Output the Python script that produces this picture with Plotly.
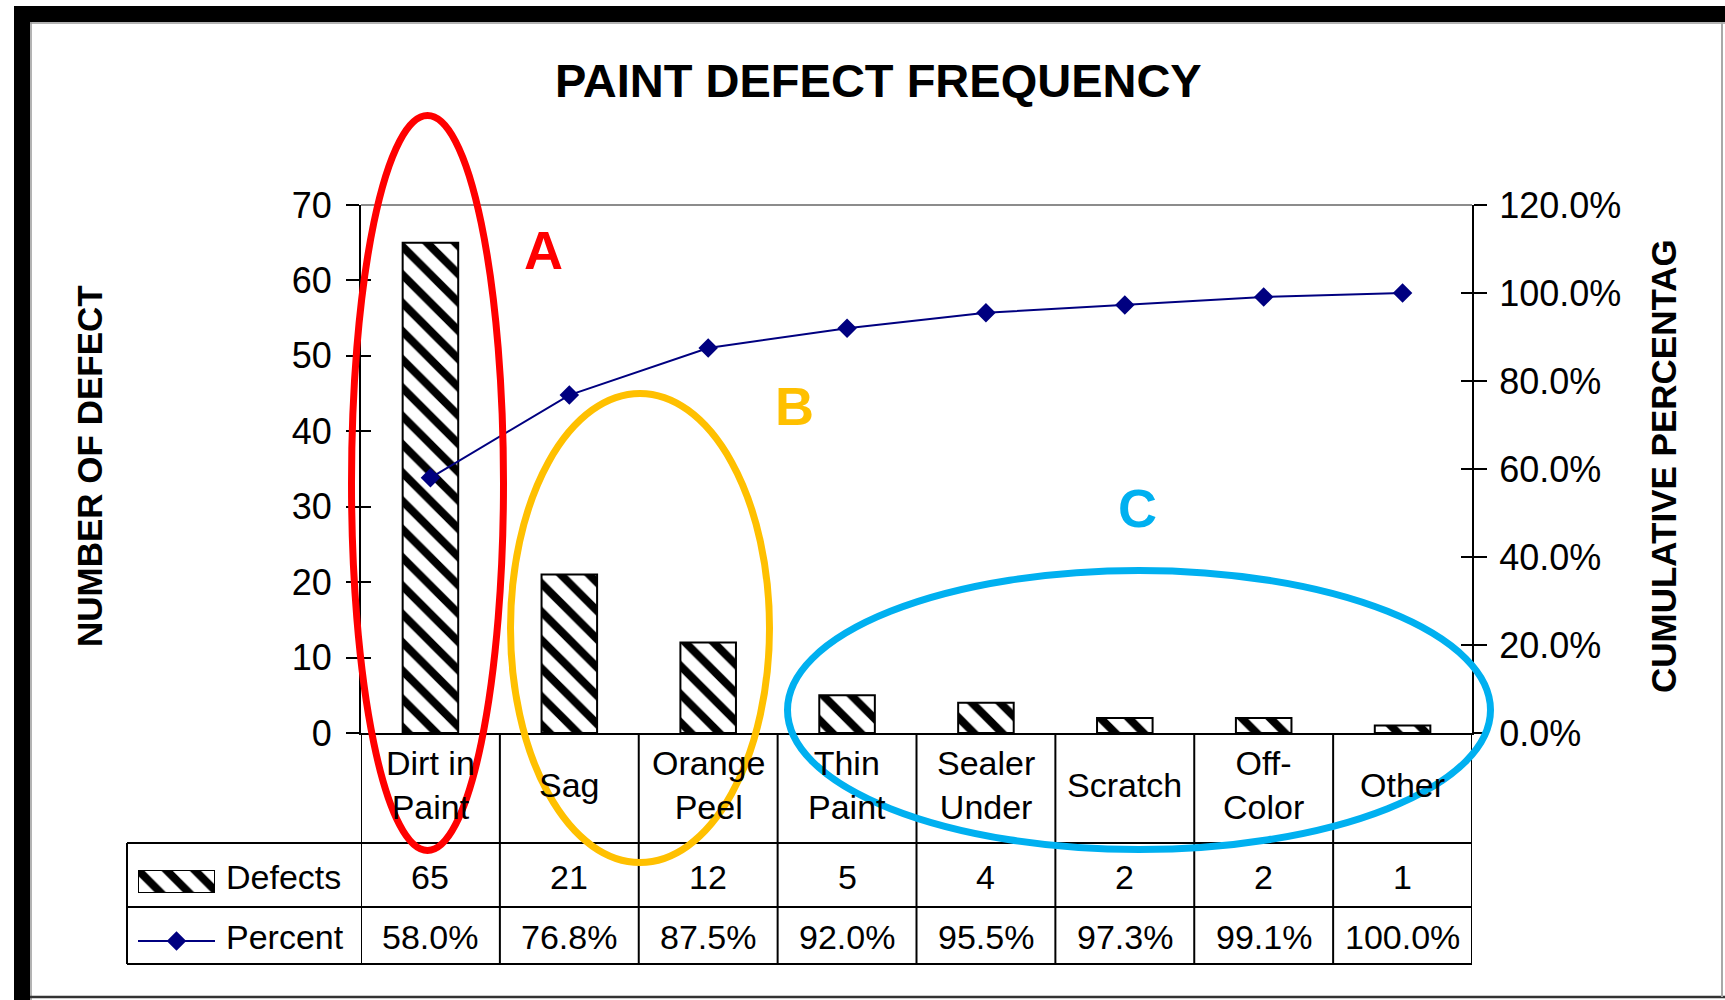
import plotly.graph_objects as go

# ---- data -------------------------------------------------------------
categories = ["Dirt in Paint", "Sag", "Orange Peel", "Thin Paint",
              "Sealer Under", "Scratch", "Off-Color", "Other"]
header_labels = ["Dirt in<br>Paint", "Sag", "Orange<br>Peel", "Thin<br>Paint",
                 "Sealer<br>Under", "Scratch", "Off-<br>Color", "Other"]
defects = [65, 21, 12, 5, 4, 2, 2, 1]
cum_percent = [58.0, 76.8, 87.5, 92.0, 95.5, 97.3, 99.1, 100.0]
count_ticks = [0, 10, 20, 30, 40, 50, 60, 70]
percent_ticks = [0, 20, 40, 60, 80, 100, 120]

# ---- page geometry helpers (pixels -> paper fractions) ----------------
W, H = 1725, 1000


def px(x):
    return x / W


def py(y):
    return 1 - y / H


FONT = "Arial, Liberation Sans, sans-serif"
NAVY = "#000080"
PLOT_L, PLOT_R, PLOT_T, PLOT_B = 361, 1472, 205, 733
HATCH = dict(shape="\\", size=20, solidity=0.4, fgcolor="black",
             bgcolor="white", fillmode="replace")

fig = go.Figure()

# Pareto bars
fig.add_trace(go.Bar(
    x=categories, y=defects, width=0.4,
    marker=dict(color="white", line=dict(color="black", width=2), pattern=HATCH),
    xaxis="x", yaxis="y", hoverinfo="skip",
))

# cumulative percentage line
fig.add_trace(go.Scatter(
    x=categories, y=[v / 100 for v in cum_percent],
    mode="lines+markers", xaxis="x", yaxis="y2",
    line=dict(color=NAVY, width=2),
    marker=dict(symbol="diamond", size=15, color=NAVY),
    hoverinfo="skip",
))

# legend swatches inside the data table
fig.add_trace(go.Bar(
    x=[0], y=[1], width=1, xaxis="x2", yaxis="y5",
    marker=dict(color="white", line=dict(color="black", width=2), pattern=HATCH),
    hoverinfo="skip",
))
fig.add_trace(go.Scatter(
    x=[0, 1], y=[0, 0], mode="lines", xaxis="x3", yaxis="y6",
    line=dict(color=NAVY, width=2), hoverinfo="skip",
))
fig.add_trace(go.Scatter(
    x=[0.5], y=[0], mode="markers", xaxis="x3", yaxis="y6",
    marker=dict(symbol="diamond", size=15, color=NAVY), hoverinfo="skip",
))

# invisible traces so the tick-crossing overlay axes render
fig.add_trace(go.Scatter(x=[categories[0]], y=[None], xaxis="x", yaxis="y3",
                         mode="markers", showlegend=False))
fig.add_trace(go.Scatter(x=[categories[0]], y=[None], xaxis="x", yaxis="y4",
                         mode="markers", showlegend=False))

tick_font = dict(family=FONT, size=36, color="black")
x_dom = [px(PLOT_L), px(PLOT_R)]
y_dom = [py(PLOT_B), py(PLOT_T)]

fig.update_layout(
    width=W, height=H, autosize=False,
    margin=dict(l=0, r=0, t=0, b=0, pad=0, autoexpand=False),
    paper_bgcolor="white", plot_bgcolor="white",
    showlegend=False, bargap=0.6,
    xaxis=dict(domain=x_dom, type="category", range=[-0.5, 7.5],
               showticklabels=False, ticks="", showgrid=False, zeroline=False,
               showline=True, linecolor="black", linewidth=2, anchor="y",
               automargin=False, fixedrange=True),
    yaxis=dict(domain=y_dom, range=[0, 70], tickvals=count_ticks,
               ticks="outside", ticklen=13, tickwidth=2, tickcolor="black",
               showline=True, linecolor="black", linewidth=2,
               showgrid=False, zeroline=False, tickfont=tick_font,
               ticklabelstandoff=7, anchor="x", automargin=False,
               fixedrange=True),
    yaxis2=dict(range=[0, 1.2], tickvals=[t / 100 for t in percent_ticks],
                tickformat=".1%", side="right", overlaying="y", anchor="x",
                ticks="outside", ticklen=13, tickwidth=2, tickcolor="black",
                showline=True, linecolor="black", linewidth=2,
                showgrid=False, zeroline=False, tickfont=tick_font,
                ticklabelstandoff=5, automargin=False, fixedrange=True),
    yaxis3=dict(range=[0, 70], tickvals=count_ticks, overlaying="y",
                side="left", anchor="x", ticks="inside", ticklen=10,
                tickwidth=2, tickcolor="black", showticklabels=False,
                showline=False, showgrid=False, zeroline=False,
                automargin=False),
    yaxis4=dict(range=[0, 1.2], tickvals=[t / 100 for t in percent_ticks],
                overlaying="y", side="right", anchor="x", ticks="inside",
                ticklen=11, tickwidth=2, tickcolor="black",
                showticklabels=False, showline=False, showgrid=False,
                zeroline=False, automargin=False),
    xaxis2=dict(domain=[px(138), px(215)], range=[-0.5, 0.5], visible=False,
                anchor="y5", automargin=False, fixedrange=True),
    yaxis5=dict(domain=[py(893), py(870)], range=[0, 1], visible=False,
                anchor="x2", automargin=False, fixedrange=True),
    xaxis3=dict(domain=[px(138), px(215)], range=[0, 1], visible=False,
                anchor="y6", automargin=False, fixedrange=True),
    yaxis6=dict(domain=[py(951), py(931)], range=[-1, 1], visible=False,
                anchor="x3", automargin=False, fixedrange=True),
)

shapes = []

# outer frame
shapes.append(dict(type="rect", xref="paper", yref="paper", x0=px(14), x1=1,
                   y0=py(22), y1=py(6), fillcolor="black", line=dict(width=0)))
shapes.append(dict(type="rect", xref="paper", yref="paper", x0=px(14), x1=px(30),
                   y0=0, y1=py(6), fillcolor="black", line=dict(width=0)))
shapes.append(dict(type="line", xref="paper", yref="paper", x0=px(30), x1=1,
                   y0=py(23), y1=py(23), line=dict(color="#9a9a9a", width=1.5)))
shapes.append(dict(type="line", xref="paper", yref="paper", x0=px(31), x1=px(31),
                   y0=0, y1=py(22), line=dict(color="#9a9a9a", width=1.5)))
shapes.append(dict(type="line", xref="paper", yref="paper", x0=px(30), x1=1,
                   y0=py(997), y1=py(997), line=dict(color="#333333", width=2.5)))
shapes.append(dict(type="line", xref="paper", yref="paper", x0=px(1722), x1=px(1722),
                   y0=py(997), y1=py(22), line=dict(color="#a8a8a8", width=2)))

# top border of the plot area
shapes.append(dict(type="line", xref="paper", yref="paper", x0=px(PLOT_L),
                   x1=px(PLOT_R), y0=py(PLOT_T), y1=py(PLOT_T),
                   line=dict(color="#8c8c8c", width=2)))

# data table grid
TABLE_L = 127
ROW_HEAD, ROW_MID, ROW_BOT = 843, 907, 964
for yy in (ROW_HEAD, ROW_MID, ROW_BOT):
    shapes.append(dict(type="line", xref="paper", yref="paper", x0=px(TABLE_L),
                       x1=px(PLOT_R), y0=py(yy), y1=py(yy),
                       line=dict(color="black", width=2)))
shapes.append(dict(type="line", xref="paper", yref="paper", x0=px(TABLE_L),
                   x1=px(TABLE_L), y0=py(ROW_BOT), y1=py(ROW_HEAD),
                   line=dict(color="black", width=2)))
for k in range(len(categories) + 1):
    shapes.append(dict(type="line", xref="x", yref="paper", x0=k - 0.5, x1=k - 0.5,
                       y0=py(ROW_BOT), y1=py(PLOT_B),
                       line=dict(color="black", width=2)))

# highlight ellipses
shapes.append(dict(type="circle", xref="paper", yref="paper", x0=px(351.5),
                   x1=px(503.5), y0=py(850.5), y1=py(115.5),
                   line=dict(color="#FF0000", width=7)))
shapes.append(dict(type="circle", xref="paper", yref="paper", x0=px(510.5),
                   x1=px(769.5), y0=py(862.5), y1=py(393.5),
                   line=dict(color="#FFC000", width=7)))
shapes.append(dict(type="circle", xref="paper", yref="paper", x0=px(787.5),
                   x1=px(1490.5), y0=py(849.5), y1=py(570.5),
                   line=dict(color="#00B0F0", width=7)))

fig.update_layout(shapes=shapes)

ann = []


def text(x, y, s, size, xref="paper", color="black", xanchor="center",
         angle=0, bold=False):
    ann.append(dict(x=x, y=y, xref=xref, yref="paper", text=f"<b>{s}</b>" if bold else s,
                    showarrow=False, xanchor=xanchor, yanchor="middle",
                    textangle=angle, font=dict(family=FONT, size=size, color=color)))


# title and axis titles
text(px(878), py(81), "PAINT DEFECT FREQUENCY", 47, bold=True)
text(px(90), py(466), "NUMBER OF DEFECT", 35, angle=-90, bold=True)
text(px(1664), py(466), "CUMULATIVE PERCENTAG", 35, angle=-90, bold=True)

# table contents
for cat, lab, d, p in zip(categories, header_labels, defects, cum_percent):
    text(cat, py(785), lab, 34, xref="x")
    text(cat, py(877), str(d), 34, xref="x")
    text(cat, py(937), f"{p:.1f}%", 34, xref="x")
text(px(224), py(877), "Defects", 34, xanchor="left")
text(px(224), py(937), "Percent", 34, xanchor="left")

# group letters
text(px(543), py(250), "A", 54, color="#FF0000", bold=True)
text(px(794), py(406), "B", 54, color="#FFC000", bold=True)
text(px(1137), py(508), "C", 54, color="#00B0F0", bold=True)

fig.update_layout(annotations=ann)

fig.write_html("out.html")
